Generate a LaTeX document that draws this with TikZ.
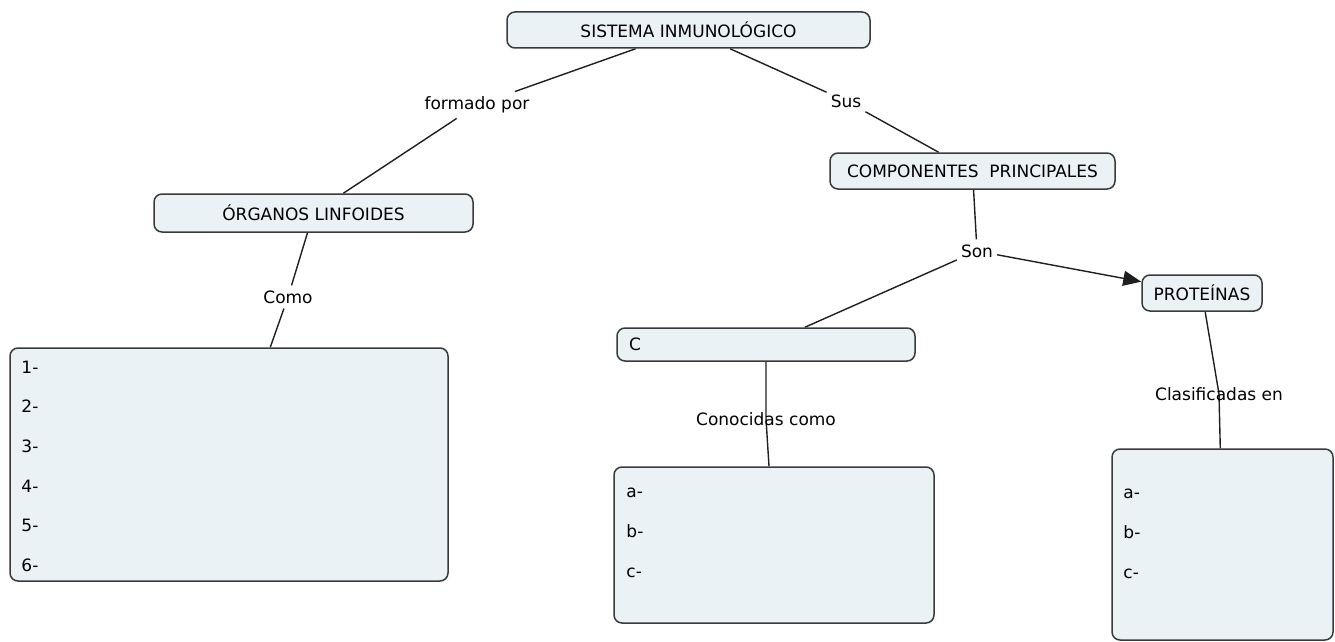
\documentclass[tikz,border=0pt]{standalone}
\usepackage{fontspec}
\setmainfont{DejaVu Sans}
\usetikzlibrary{arrows.meta,backgrounds}
\definecolor{cfill}{HTML}{EBF2F5}
\definecolor{cline}{HTML}{3A3A3A}
\tikzset{
  concept/.style={draw=cline, line width=1.5pt, fill=cfill, rounded corners=8pt,
    font=\fontsize{17}{20}\selectfont, inner sep=0pt},
  linkword/.style={font=\fontsize{17}{20}\selectfont, inner xsep=4pt, inner ysep=5pt},
  conn/.style={draw=black!88, line width=1.4pt},
  entry/.style={anchor=base west, font=\fontsize{17}{20}\selectfont, inner sep=0pt}
}
\begin{document}
\begin{tikzpicture}[x=1pt,y=-1pt]
\useasboundingbox (0,0) rectangle (1335,642);
% concepts
\node[concept, minimum width=363pt, minimum height=36pt] (sistema) at (688.5,30) {SISTEMA INMUNOLÓGICO};
\node[concept, minimum width=285pt, minimum height=36pt] (componentes) at (972.5,171) {COMPONENTES\ \ PRINCIPALES};
\node[concept, minimum width=319pt, minimum height=38pt] (organos) at (313.5,213) {ÓRGANOS LINFOIDES};
\node[concept, minimum width=120pt, minimum height=36pt] (proteinas) at (1202,293) {PROTEÍNAS};
\node[concept, minimum width=298pt, minimum height=33pt, text width=274pt, align=left] (c) at (766,344.5) {C};
\node[concept, minimum width=438pt, minimum height=233pt] (listaorg) at (229,464.5) {};
\node[concept, minimum width=320pt, minimum height=156pt] (listac) at (774,545) {};
\node[concept, minimum width=221pt, minimum height=191pt] (listaprot) at (1222.5,544.5) {};
% lists
\foreach \t [count=\i] in {1-,2-,3-,4-,5-,6-}
  \node[entry] (org\i) at ([shift={(12,26+39.6*(\i-1))}]listaorg.north west) {\t};
\foreach \t [count=\i] in {a-,b-,c-}
  \node[entry] (conoc\i) at ([shift={(13,31+40*(\i-1))}]listac.north west) {\t};
\foreach \t [count=\i] in {a-,b-,c-}
  \node[entry] (prot\i) at ([shift={(12,50+40*(\i-1))}]listaprot.north west) {\t};
% linking words
\node[linkword] (formado) at (477,105) {formado por};
\node[linkword] (sus) at (846,101) {Sus};
\node[linkword] (como) at (288,297) {Como};
\node[linkword] (son) at (977,251) {Son};
\node[linkword] (conocidas) at (766,419) {Conocidas como};
\node[linkword] (clasificadas) at (1219,394) {Clasificadas en};
% connectors
\begin{scope}[on background layer]
\draw[conn] (sistema) -- (formado);
\draw[conn] (formado) -- (organos);
\draw[conn] (sistema) -- (sus);
\draw[conn] (sus) -- (componentes);
\draw[conn] (organos) -- (como);
\draw[conn] (como) -- (listaorg);
\draw[conn] (componentes) -- (son);
\draw[conn] (son) -- (c);
\draw[conn, -{Triangle[length=18pt,width=15pt]}] (son) -- (proteinas);
\draw[conn] (c) -- (conocidas.center) -- (listac);
\draw[conn] (proteinas) -- (clasificadas.center) -- (listaprot);
\end{scope}
\end{tikzpicture}
\end{document}
